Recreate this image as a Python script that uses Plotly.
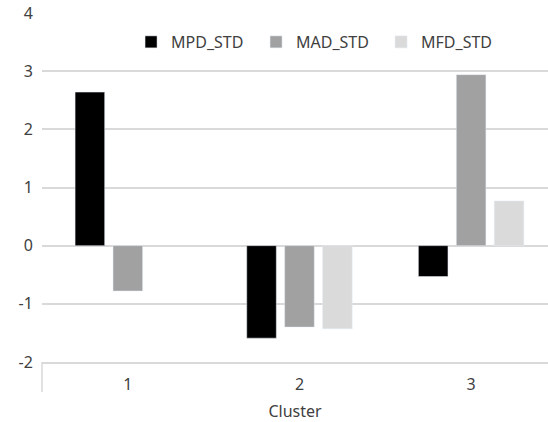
import plotly.graph_objects as go

clusters = ["1", "2", "3"]
mpd_std = [2.64, -1.59, -0.53]
mad_std = [-0.78, -1.40, 2.94]
mfd_std = [None, -1.43, 0.77]
y_ticks = [-2, -1, 0, 1, 2, 3, 4]

FONT = "Noto Sans"
TXT = "#404040"
GRID = "#d9d9d9"

fig = go.Figure()
fig.add_trace(go.Bar(name="MPD_STD", x=clusters, y=mpd_std, marker_color="#000000"))
fig.add_trace(go.Bar(name="MAD_STD", x=clusters, y=mad_std, marker_color="#a0a1a0"))
fig.add_trace(go.Bar(name="MFD_STD", x=clusters, y=mfd_std, marker_color="#d9dad9"))

fig.update_layout(
    width=548, height=422,
    margin=dict(l=42, r=0, t=13, b=60),
    paper_bgcolor="white", plot_bgcolor="white",
    barmode="group", bargap=0.337, bargroupgap=0.22,
    font=dict(family=FONT, size=16, color=TXT),
    showlegend=True,
    legend=dict(orientation="h", x=0.176, xanchor="left", y=0.917, yanchor="middle",
                font=dict(size=16, color=TXT), entrywidth=80, entrywidthmode="pixels",
                bgcolor="rgba(0,0,0,0)"),
)
fig.update_xaxes(
    type="category", range=[-0.5, 2.448], showgrid=False,
    showline=True, linecolor=GRID, linewidth=1.5, ticks="",
    ticklabelstandoff=7,
    title=dict(text="Cluster", standoff=13, font=dict(size=16, color=TXT)),
    tickfont=dict(size=16, color=TXT),
)
fig.update_yaxes(
    range=[-2, 4], tickvals=y_ticks, ticktext=[str(v) for v in y_ticks],
    showgrid=True, gridcolor=GRID, gridwidth=1.5,
    zeroline=True, zerolinecolor=GRID, zerolinewidth=1.5,
    showline=False, ticks="outside", ticklen=5, tickcolor="rgba(0,0,0,0)",
    tickfont=dict(size=16, color=TXT),
)
fig.add_shape(type="line", xref="paper", yref="paper", x0=0, x1=0, y0=0, y1=-30/349,
              line=dict(color=GRID, width=1.5))

fig.write_html("out.html")
